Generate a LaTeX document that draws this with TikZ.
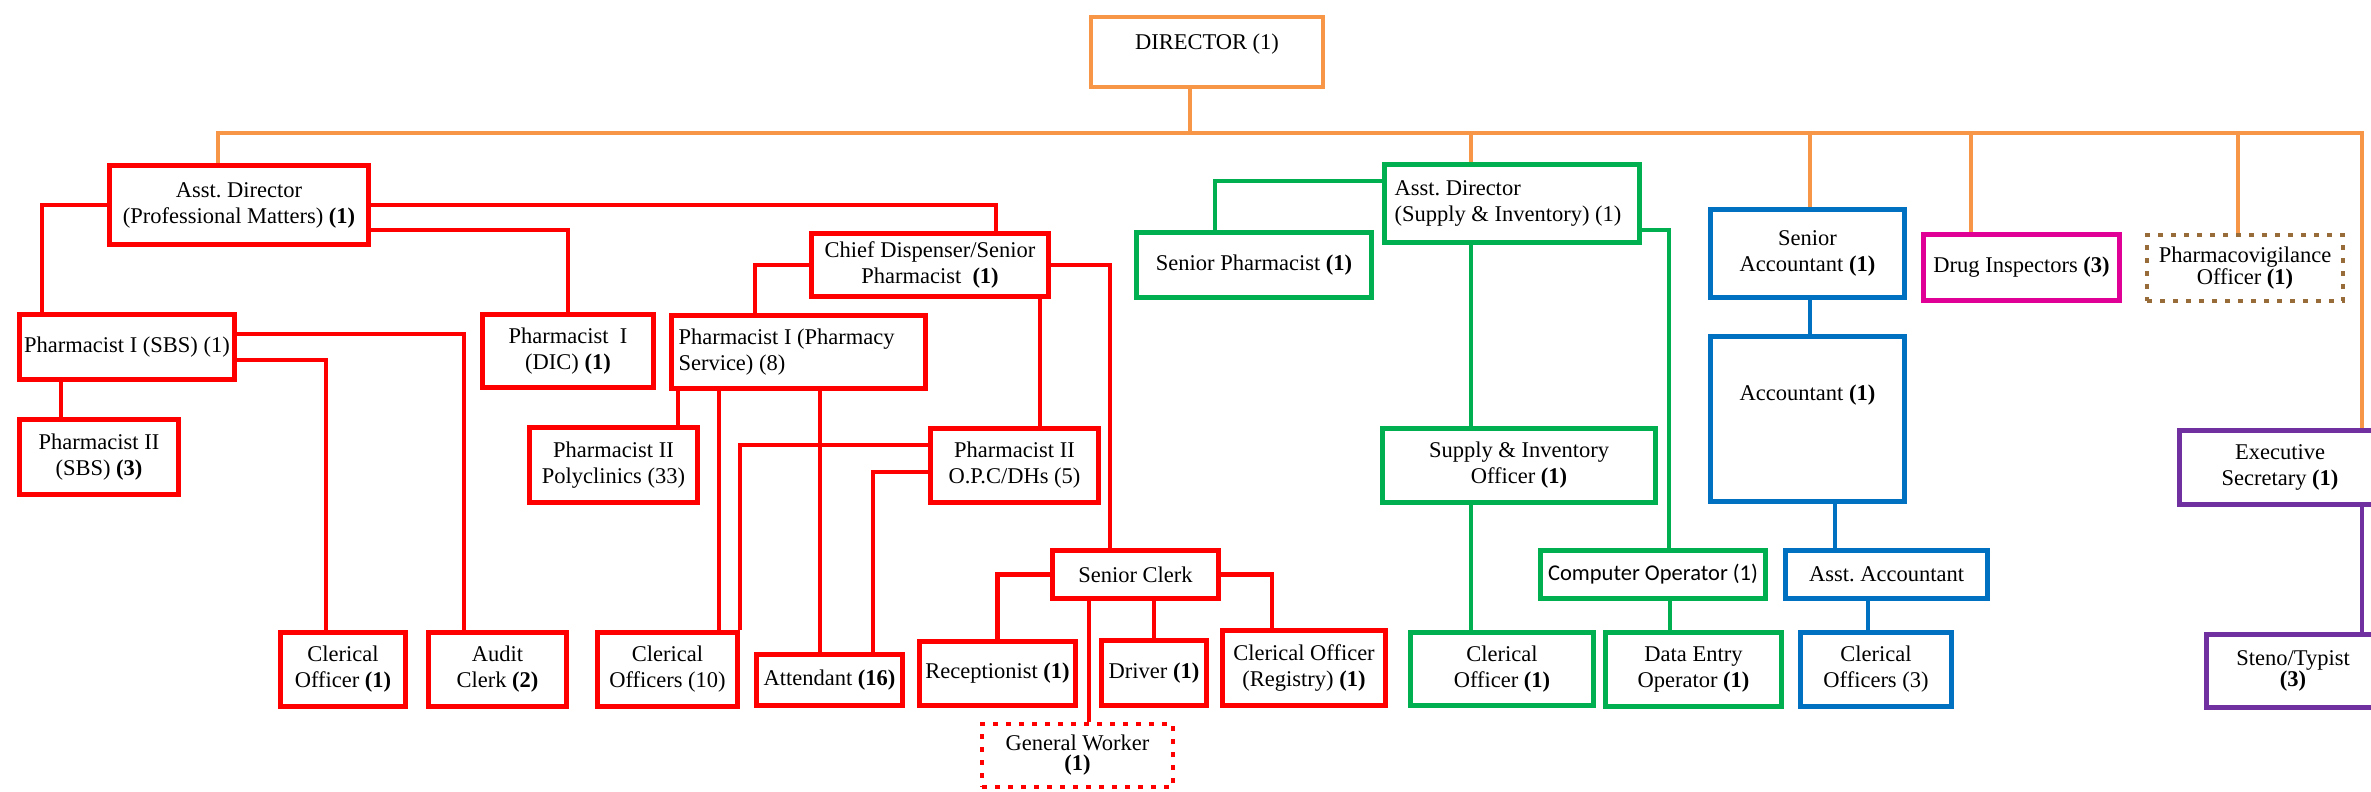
\documentclass[tikz,border=0pt]{standalone}
\usepackage{fontspec}
\setmainfont{Liberation Serif}
\newfontfamily\calibfont{Carlito}
\usepackage{xcolor}
\definecolor{orgcol}{RGB}{247,150,70}
\definecolor{grncol}{RGB}{0,176,80}
\definecolor{blucol}{RGB}{0,112,192}
\definecolor{magcol}{RGB}{224,0,150}
\definecolor{prpcol}{RGB}{112,48,160}
\definecolor{brncol}{RGB}{151,108,56}
\newcommand{\bnum}[1]{\textbf{(#1)}}
\frenchspacing
\tikzset{%
office/.style={draw,rectangle,line width=5pt,inner sep=2pt,align=center},
dims/.style 2 args={minimum width=#1pt,minimum height=#2pt},
orgpost/.style={office,draw=orgcol,line width=4pt},
redpost/.style={office,draw=red},
grnpost/.style={office,draw=grncol},
blupost/.style={office,draw=blucol},
magpost/.style={office,draw=magcol},
prppost/.style={office,draw=prpcol},
brnpost/.style={office,draw=brncol,line width=4pt,dash pattern=on 5pt off 8pt},
vacant/.style={line width=4pt,dash pattern=on 5pt off 8pt},
tight/.style={font=\fontsize{22.5}{20}\selectfont},
orglink/.style={draw=orgcol,line width=3.5pt},
redlink/.style={draw=red,line width=4.5pt},
grnlink/.style={draw=grncol,line width=4pt},
blulink/.style={draw=blucol,line width=4.5pt},
prplink/.style={draw=prpcol,line width=4.5pt}
}
\begin{document}
\begin{tikzpicture}[x=1pt,y=-1pt,font=\fontsize{22.5}{26}\selectfont]
\useasboundingbox (0,0) rectangle (2371,792);

% top row
\node[orgpost,dims={232}{70},text height=31pt,text depth=35pt] (dir) at (1207,52) {DIRECTOR (1)};
\node[redpost,dims={259}{79}] (adpm) at (239,205) {Asst. Director\\(Professional Matters) \bnum{1}};
\node[grnpost,dims={255}{78},text width=235pt,align=flush left] (adsi) at (1512,203.5) {Asst. Director\\(Supply \& Inventory) (1)};
\node[blupost,dims={194}{88}] (sa) at (1807.5,253.5) {Senior\\Accountant \bnum{1}};
\node[magpost,dims={196}{66}] (di) at (2021.5,267.5) {Drug Inspectors \bnum{3}};
\node[brnpost,tight,dims={196}{66}] (pv) at (2245,268) {Pharmacovigilance\\Officer \bnum{1}};
\node[prppost,dims={201}{74}] (es) at (2280,467.5) {Executive\\Secretary \bnum{1}};
\node[prppost,tight,dims={173}{73}] (steno) at (2293,671) {Steno/Typist\\\bnum{3}};

% professional matters
\node[redpost,dims={215}{65}] (psbs) at (127,347) {Pharmacist I (SBS) (1)};
\node[redpost,dims={159}{75}] (p2sbs) at (99,457) {Pharmacist II\\(SBS) \bnum{3}};
\node[redpost,dims={171}{73}] (dic) at (568,351) {Pharmacist\ \ I\\(DIC) \bnum{1}};
\node[redpost,dims={237}{63}] (cd) at (930,265) {Chief Dispenser/Senior\\Pharmacist\ \ \bnum{1}};
\node[redpost,dims={254}{73},text width=240pt,align=flush left] (pps) at (798.5,352) {Pharmacist I (Pharmacy\\Service) (8)};
\node[redpost,dims={168}{75}] (poly) at (613.5,465) {Pharmacist II\\Polyclinics (33)};
\node[redpost,dims={168}{74}] (opc) at (1014.5,465.5) {Pharmacist II\\O.P.C/DHs (5)};
\node[redpost,dims={125}{74}] (clo) at (343,669.5) {Clerical\\Officer \bnum{1}};
\node[redpost,dims={138}{74}] (audit) at (497.5,669.5) {Audit\\Clerk \bnum{2}};
\node[redpost,dims={140}{74}] (co10) at (667.5,669.5) {Clerical\\Officers (10)};
\node[redpost,dims={146}{51}] (att) at (829.5,680) {Attendant \bnum{16}};
\node[redpost,dims={166}{48}] (sclerk) at (1135.5,574.5) {Senior Clerk};
\node[redpost,dims={156}{64}] (recep) at (997.5,673.5) {Receptionist \bnum{1}};
\node[redpost,dims={105}{65}] (driver) at (1154,673) {Driver \bnum{1}};
\node[redpost,dims={163}{75}] (reg) at (1304,668) {Clerical Officer\\(Registry) \bnum{1}};
\node[redpost,vacant,tight,dims={191}{63}] (gw) at (1077.5,755.5) {General Worker\\\bnum{1}};

% supply and inventory
\node[grnpost,dims={235}{65}] (sp) at (1254,265) {Senior Pharmacist \bnum{1}};
\node[grnpost,dims={273}{74}] (sio) at (1519,465.5) {Supply \& Inventory\\Officer \bnum{1}};
\node[grnpost,dims={225}{48},font=\calibfont\fontsize{22.5}{26}\selectfont] (cop) at (1653,574.5) {Computer Operator (1)};
\node[grnpost,dims={183}{73}] (gco) at (1502,669) {Clerical\\Officer \bnum{1}};
\node[grnpost,dims={176}{74}] (deo) at (1693.5,669.5) {Data Entry\\Operator \bnum{1}};

% accounts
\node[blupost,dims={194}{165},text height=61.5pt,text depth=99.5pt] (acc) at (1807.5,419) {Accountant \bnum{1}};
\node[blupost,dims={202}{48}] (aa) at (1886.5,574.5) {Asst. Accountant};
\node[blupost,dims={151}{74}] (co3) at (1876,669.5) {Clerical\\Officers (3)};

% director's line
\coordinate (busl) at (218,133);
\coordinate (busr) at (2362,133);
\draw[orglink] (dir.south -| 1190,0) -- (busl -| 1190,0);
\draw[orglink] (busl |- adpm.north) -- (busl) -- (busr) -- (es.north -| busr);
\draw[orglink] (busl -| 1471,0) -- (adsi.north -| 1471,0);
\draw[orglink] (busl -| 1810,0) -- (sa.north -| 1810,0);
\draw[orglink] (busl -| 1971,0) -- (di.north -| 1971,0);
\draw[orglink] (busl -| 2238,0) -- (pv.north -| 2238,0);

\draw[redlink] (adpm.west) -| (psbs.north -| 42,0);
\draw[redlink] (adpm.east) -| (cd.north -| 996,0);
\draw[redlink] (adpm.east |- 0,230) -| (dic.north);
\draw[redlink] (psbs.east |- 0,334) -| (audit.north -| 464,0);
\draw[redlink] (psbs.east |- 0,360) -| (clo.north -| 326,0);
\draw[redlink] (psbs.south -| 61,0) -- (p2sbs.north -| 61,0);
\draw[redlink] (cd.west) -| (pps.north -| 755,0);
\draw[redlink] (cd.east) -| (sclerk.north -| 1110,0);
\draw[redlink] (cd.south -| 1040,0) -- (opc.north -| 1040,0);
\draw[redlink] (pps.south -| 678,0) -- (poly.north -| 678,0);
\draw[redlink] (pps.south -| 719,0) -- (co10.north -| 719,0);
\draw[redlink] (pps.south -| 820,0) -- (att.north -| 820,0);
\draw[redlink] (opc.west |- 0,445) -| (co10.north east);
\draw[redlink] (opc.west |- 0,472) -| (att.north -| 873,0);
\draw[redlink] (sclerk.west) -| (recep.north);
\draw[redlink] (sclerk.east) -| (reg.north -| 1272,0);
\draw[redlink] (sclerk.south -| driver.north) -- (driver.north);
\draw[redlink] (sclerk.south -| 1089,0) -- (gw.north -| 1089,0);

\draw[grnlink] (adsi.west |- 0,181) -| (sp.north -| 1215,0);
\draw[grnlink] (adsi.south -| 1471,0) -- (sio.north -| 1471,0);
\draw[grnlink] (adsi.east |- 0,230) -| (cop.north -| 1669,0);
\draw[grnlink] (sio.south -| 1471,0) -- (gco.north -| 1471,0);
\draw[grnlink] (cop.south -| 1670,0) -- (deo.north -| 1670,0);

\draw[blulink] (sa.south -| 1810,0) -- (acc.north -| 1810,0);
\draw[blulink] (acc.south -| 1835,0) -- (aa.north -| 1835,0);
\draw[blulink] (aa.south -| 1868,0) -- (co3.north -| 1868,0);

\draw[prplink] (es.south -| busr) -- (steno.north -| busr);
\end{tikzpicture}
\end{document}
